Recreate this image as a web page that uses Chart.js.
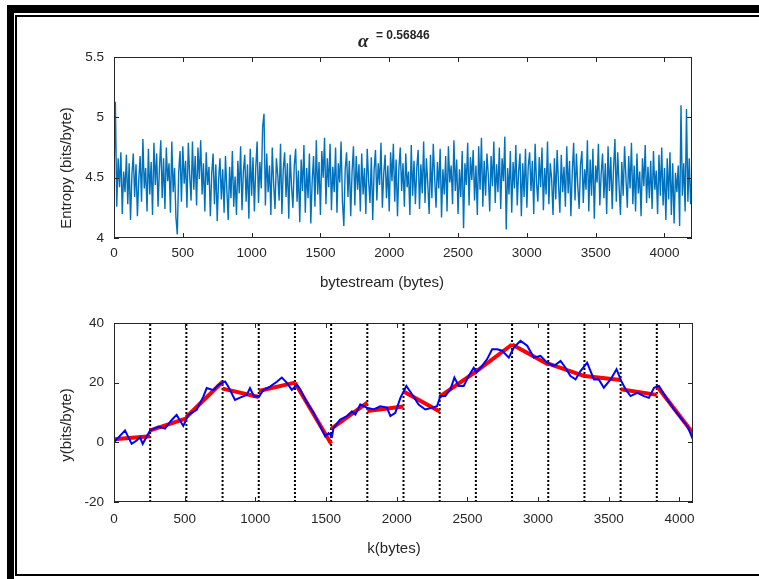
<!DOCTYPE html>
<html>
<head>
<meta charset="utf-8">
<script src="https://cdn.jsdelivr.net/npm/chart.js@4.4.1/dist/chart.umd.min.js"></script>
<style>
    html, body { margin: 0; padding: 0; background: #fff; }
    #page { position: relative; width: 759px; height: 579px; overflow: hidden; background: #fff;
            font-family: "Liberation Sans", Arial, sans-serif; color: #262626; }
    .panel { position: absolute; left: 0; }
    .frame { position: absolute; background: #000; z-index: 5; }
    .lbl { position: absolute; white-space: nowrap; font-size: 15px; line-height: 1;
           transform: translate(-50%, -50%); }
    .lbl.rot { transform: translate(-50%, -50%) rotate(-90deg); }
</style>
</head>
<body>
<div id="page">
    <div class="panel" style="top:0;width:759px;height:300px"><canvas id="entropyChart" width="759" height="300"></canvas></div>
    <div class="panel" style="top:300px;width:759px;height:279px"><canvas id="profileChart" width="759" height="279"></canvas></div>

    <!-- figure frame -->
    <div class="frame" style="left:7px;top:5px;width:752px;height:8px"></div>
    <div class="frame" style="left:7px;top:5px;width:7px;height:574px"></div>
    <div class="frame" style="left:15px;top:15px;width:744px;height:2px"></div>
    <div class="frame" style="left:15px;top:15px;width:2px;height:561px"></div>
    <div class="frame" style="left:15px;top:574px;width:744px;height:2px"></div>

    <!-- title and axis labels -->
    <div style="position:absolute;left:358px;top:31px;font:italic bold 19px 'Liberation Serif',serif;line-height:1">&alpha;</div>
    <div style="position:absolute;left:376px;top:29px;font:bold 12px 'Liberation Sans',Arial,sans-serif;line-height:1">= 0.56846</div>
    <div class="lbl rot" style="left:65px;top:168px">Entropy (bits/byte)</div>
    <div class="lbl" style="left:382px;top:281px">bytestream (bytes)</div>
    <div class="lbl rot" style="left:65px;top:425px">y(bits/byte)</div>
    <div class="lbl" style="left:394px;top:547px">k(bytes)</div>
</div>

<script>
'use strict';

/* ── Data ────────────────────────────────────────────────────────────────── */

// top panel: entropy sampled every ENTROPY_STEP bytes (0 .. 4200), one row = 100 bytes
const ENTROPY_STEP = 10;
const entropy = [
    4.50, 5.13, 4.26, 4.66, 4.42, 4.71, 4.20, 4.55, 4.38, 4.69,
    4.28, 4.62, 4.15, 4.52, 4.70, 4.34, 4.61, 4.18, 4.48, 4.68,
    4.30, 4.82, 4.41, 4.58, 4.22, 4.74, 4.36, 4.63, 4.19, 4.79,
    4.44, 4.70, 4.26, 4.57, 4.81, 4.33, 4.66, 4.24, 4.75, 4.47,
    4.62, 4.21, 4.80, 4.38, 4.58, 4.17, 4.03, 4.55, 4.72, 4.30,
    4.76, 4.45, 4.64, 4.25, 4.79, 4.52, 4.31, 4.80, 4.40, 4.68,
    4.27, 4.75, 4.49, 4.81, 4.36, 4.62, 4.22, 4.71, 4.44, 4.59,
    4.18, 4.53, 4.70, 4.28, 4.61, 4.14, 4.48, 4.66, 4.32, 4.57,
    4.21, 4.68, 4.40, 4.15, 4.59, 4.33, 4.72, 4.26, 4.51, 4.19,
    4.64, 4.37, 4.76, 4.23, 4.55, 4.69, 4.30, 4.61, 4.16, 4.74,
    4.35, 4.67, 4.22, 4.58, 4.80, 4.29, 4.63, 4.41, 4.92, 5.03,
    4.27, 4.70, 4.38, 4.60, 4.19, 4.75, 4.45, 4.24, 4.66, 4.52,
    4.31, 4.78, 4.20, 4.57, 4.71, 4.34, 4.62, 4.16, 4.69, 4.43,
    4.25, 4.60, 4.74, 4.30, 4.56, 4.13, 4.65, 4.39, 4.77, 4.21,
    4.58, 4.33, 4.70, 4.12, 4.47, 4.68, 4.26, 4.81, 4.36, 4.63,
    4.19, 4.72, 4.50, 4.83, 4.28, 4.66, 4.42, 4.78, 4.23, 4.59,
    4.38, 4.75, 4.21, 4.62, 4.46, 4.80, 4.30, 4.10, 4.57, 4.71,
    4.34, 4.64, 4.18, 4.55, 4.76, 4.27, 4.68, 4.40, 4.61, 4.22,
    4.70, 4.36, 4.58, 4.20, 4.74, 4.48, 4.29, 4.67, 4.15, 4.56,
    4.73, 4.31, 4.62, 4.44, 4.79, 4.25, 4.53, 4.69, 4.33, 4.60,
    4.22, 4.71, 4.47, 4.78, 4.30, 4.65, 4.18, 4.57, 4.75, 4.39,
    4.62, 4.26, 4.70, 4.42, 4.55, 4.19, 4.77, 4.35, 4.64, 4.28,
    4.58, 4.73, 4.24, 4.61, 4.37, 4.80, 4.29, 4.66, 4.45, 4.20,
    4.69, 4.33, 4.78, 4.50, 4.25, 4.63, 4.41, 4.74, 4.17, 4.57,
    4.36, 4.68, 4.22, 4.76, 4.46, 4.60, 4.28, 4.81, 4.39, 4.65,
    4.20, 4.57, 4.34, 4.72, 4.08, 4.62, 4.44, 4.79, 4.27, 4.67,
    4.48, 4.73, 4.31, 4.60, 4.19, 4.76, 4.40, 4.83, 4.26, 4.64,
    4.35, 4.70, 4.52, 4.22, 4.68, 4.43, 4.80, 4.29, 4.61, 4.38,
    4.75, 4.24, 4.66, 4.47, 4.84, 4.07, 4.58, 4.36, 4.72, 4.21,
    4.63, 4.41, 4.77, 4.27, 4.55, 4.70, 4.18, 4.62, 4.34, 4.74,
    4.25, 4.59, 4.71, 4.39, 4.64, 4.20, 4.78, 4.46, 4.30, 4.67,
    4.42, 4.75, 4.23, 4.58, 4.36, 4.80, 4.28, 4.62, 4.49, 4.19,
    4.66, 4.32, 4.73, 4.45, 4.21, 4.69, 4.38, 4.59, 4.26, 4.76,
    4.37, 4.64, 4.18, 4.55, 4.79, 4.31, 4.70, 4.43, 4.24, 4.61,
    4.72, 4.29, 4.57, 4.40, 4.81, 4.22, 4.65, 4.35, 4.74, 4.16,
    4.60, 4.46, 4.78, 4.27, 4.53, 4.70, 4.33, 4.62, 4.20, 4.76,
    4.39, 4.67, 4.24, 4.58, 4.82, 4.30, 4.71, 4.44, 4.19, 4.63,
    4.35, 4.76, 4.50, 4.25, 4.68, 4.41, 4.79, 4.28, 4.60, 4.22,
    4.70, 4.37, 4.55, 4.18, 4.66, 4.43, 4.77, 4.29, 4.59, 4.33,
    4.64, 4.24, 4.72, 4.40, 4.56, 4.20, 4.69, 4.35, 4.75, 4.27,
    4.58, 4.15, 4.66, 4.32, 4.71, 4.19, 4.62, 4.12, 4.54, 4.38,
    4.60, 4.10, 5.10, 4.35, 4.62, 4.22, 5.07, 4.30, 4.66, 4.28,
    4.55,
];
const topXTicks = [0, 500, 1000, 1500, 2000, 2500, 3000, 3500, 4000];
const topYTicks = [4, 4.5, 5, 5.5];

// bottom panel: integrated profile (blue) and its piecewise fit (red)
const kBytes = [
    0, 78, 125, 160, 184, 203, 255, 314, 361, 408, 443, 490, 526, 585, 632, 656, 703, 738, 786, 809,
    856, 892, 939, 962, 991, 1029, 1057, 1104, 1152, 1187, 1222, 1258, 1293, 1317, 1365, 1412, 1436, 1494, 1518, 1542,
    1553, 1600, 1648, 1683, 1707, 1742, 1789, 1837, 1884, 1931, 1955, 1990, 2026, 2068, 2108, 2155, 2202, 2250, 2285, 2309,
    2344, 2380, 2408, 2439, 2474, 2509, 2545, 2564, 2604, 2640, 2675, 2711, 2746, 2793, 2829, 2876, 2923, 2970, 3017, 3064,
    3112, 3159, 3194, 3229, 3265, 3300, 3347, 3395, 3430, 3465, 3513, 3555, 3588, 3619, 3654, 3702, 3749, 3784, 3820, 3855,
    3914, 3962, 4009, 4056, 4096,
];
const yProfile = [
    0, 4, -0.5, 0.6, 1.7, -0.5, 4, 5.3, 4.6, 7.5, 9.2, 5.5, 9.2, 10.9, 15.3, 18.2, 17.5, 19.3, 20.4, 18.6,
    14.2, 15, 15.9, 18.2, 15.3, 15.5, 17.6, 18.7, 20.3, 21.7, 20, 17.6, 19.3, 17.8, 13.3, 9.9, 7.6, 2, 3.1, 2,
    4.8, 7.6, 8.8, 10.4, 9.3, 12.7, 11.6, 11, 12.1, 11.6, 8.8, 9.9, 14.9, 18.9, 16.1, 12.7, 11, 11.6, 12.1, 15.5,
    15.5, 17.8, 21.7, 18.9, 18.9, 22.2, 25, 23.4, 25.6, 27.9, 31.2, 31.2, 30.7, 28.4, 31.8, 34, 32.4, 28.4, 29, 26.7,
    25.6, 27.3, 25, 22.2, 21.1, 23.9, 26.7, 21.1, 21.1, 18.3, 21.1, 24.5, 20.6, 17.8, 15.5, 16.6, 15.5, 14.9, 18.3, 18.9,
    14.4, 11, 8.2, 5.4, 0.9,
];
const segBreaks = [0, 256, 512, 768, 1024, 1280, 1536, 1792, 2048, 2304, 2560, 2816, 3072, 3328, 3584, 3840, 4096];
const segStartY = [1, 4, 8.5, 18, 17.2, 20, 4.5, 10.5, 17, 15.3, 23.7, 32.8, 26.4, 22.2, 17.8, 18.9];
const segEndY   = [2, 8, 20.3, 15.2, 20, -0.5, 13.3, 12, 10.3, 23.7, 32.8, 26.1, 22.2, 20.9, 15.9, 3.0];
const botXTicks = [0, 500, 1000, 1500, 2000, 2500, 3000, 3500, 4000];
const botYTicks = [-20, 0, 20, 40];

/* ── Shared styling ─────────────────────────────────────────────────────── */

const TEXT = '#262626';
const FONT = "'Liberation Sans', Arial, sans-serif";
const TICK_LEN = 5;

// box round the plot area, with ticks pointing inwards on all four sides
const boxTicks = {
    id: 'boxTicks',
    afterDatasetsDraw(chart) {
        const { ctx, chartArea: a, scales: { x, y } } = chart;
        ctx.save();
        ctx.strokeStyle = TEXT;
        ctx.lineWidth = 1;
        ctx.strokeRect(a.left + 0.5, a.top + 0.5, a.right - a.left - 1, a.bottom - a.top - 1);
        ctx.beginPath();
        x.ticks.forEach(t => {
            const px = Math.round(x.getPixelForValue(t.value)) + 0.5;
            ctx.moveTo(px, a.bottom); ctx.lineTo(px, a.bottom - TICK_LEN);
            ctx.moveTo(px, a.top);    ctx.lineTo(px, a.top + TICK_LEN);
        });
        y.ticks.forEach(t => {
            const py = Math.round(y.getPixelForValue(t.value)) + 0.5;
            ctx.moveTo(a.left, py);  ctx.lineTo(a.left + TICK_LEN, py);
            ctx.moveTo(a.right, py); ctx.lineTo(a.right - TICK_LEN, py);
        });
        ctx.stroke();
        ctx.restore();
    },
};

function axis(min, max, tickValues, size, pad) {
    return {
        type: 'linear',
        min, max,
        grid: { display: false, drawTicks: false },
        border: { display: false },
        afterBuildTicks: s => { s.ticks = tickValues.map(v => ({ value: v })); },
        afterFit: s => { if (s.isHorizontal()) s.height = size; else s.width = size; },
        ticks: {
            color: TEXT,
            font: { family: FONT, size: 13.5 },
            padding: pad,
            maxRotation: 0,
            autoSkip: false,
            callback: v => String(v),
        },
    };
}

const baseOptions = {
    responsive: false,
    animation: false,
    events: [],
    plugins: { legend: { display: false }, tooltip: { enabled: false } },
    elements: { point: { radius: 0 }, line: { tension: 0 } },
};

/* ── Top: entropy of the bytestream ─────────────────────────────────────── */

new Chart(document.getElementById('entropyChart'), {
    type: 'line',
    data: {
        datasets: [{
            data: entropy.map((v, i) => ({ x: i * ENTROPY_STEP, y: v })),
            borderColor: '#0072BD',
            borderWidth: 1.4,
        }],
    },
    options: {
        ...baseOptions,
        layout: { padding: { left: 0, top: 57, right: 67, bottom: 22 } },
        scales: {
            x: axis(0, 4200, topXTicks, 40, 7),
            y: axis(4, 5.5, topYTicks, 114, 10),
        },
    },
    plugins: [boxTicks],
});

/* ── Bottom: profile, piecewise fit and window borders ──────────────────── */

const profilePts = kBytes.map((k, i) => ({ x: k, y: yProfile[i] }));

const fitPts = [];
segStartY.forEach((y0, i) => {
    if (i > 0) fitPts.push({ x: segBreaks[i], y: null });
    fitPts.push({ x: segBreaks[i], y: y0 }, { x: segBreaks[i + 1], y: segEndY[i] });
});

const borderPts = [];
segBreaks.slice(1).forEach((b, i) => {
    if (i > 0) borderPts.push({ x: b, y: null });
    borderPts.push({ x: b, y: botYTicks[0] }, { x: b, y: botYTicks[botYTicks.length - 1] });
});

new Chart(document.getElementById('profileChart'), {
    type: 'line',
    data: {
        datasets: [
            { data: profilePts, borderColor: '#0000FF', borderWidth: 2, order: 0 },
            { data: fitPts, borderColor: '#FF0000', borderWidth: 4, order: 1, spanGaps: false },
            { data: borderPts, borderColor: '#000000', borderWidth: 2, borderDash: [2, 2], order: 2, spanGaps: false },
        ],
    },
    options: {
        ...baseOptions,
        layout: { padding: { left: 0, top: 23, right: 66, bottom: 37 } },
        scales: {
            x: axis(0, 4096, botXTicks, 40, 9),
            y: axis(-20, 40, botYTicks, 114, 10),
        },
    },
    plugins: [boxTicks],
});
</script>
</body>
</html>
